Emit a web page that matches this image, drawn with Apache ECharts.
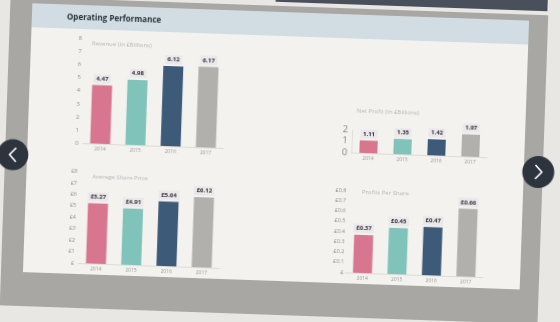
<!DOCTYPE html>
<html><head><meta charset="utf-8">
<script src="https://cdn.jsdelivr.net/npm/echarts@6/dist/echarts.min.js"></script>
<style>
html,body{margin:0;padding:0;width:560px;height:322px;overflow:hidden;background:#e8e7e3;}
#chart{position:absolute;left:-20px;top:-30px;width:600px;height:382px;transform:rotate(2deg);transform-origin:300px 191px;}
</style></head><body><div id="chart"></div>
<script>
const categories = ['2014', '2015', '2016', '2017'];
const revenue = [4.47, 4.98, 6.12, 6.17];
const netProfit = [1.11, 1.35, 1.42, 1.97];
const sharePrice = [5.27, 4.91, 5.64, 6.12];
const profitPerShare = [0.37, 0.45, 0.47, 0.66];
const revenueTicks = ['0', '1', '2', '3', '4', '5', '6', '7', '8'];
const netProfitTicks = ['0', '0.5', '1', '1.5', '2'];
const sharePriceTicks = ['£', '£1', '£2', '£3', '£4', '£5', '£6', '£7', '£8'];
const ppsTicks = ['£', '£0.1', '£0.2', '£0.3', '£0.4', '£0.5', '£0.6', '£0.7', '£0.8'];

const OX = 20, OY = 30;
const FONT = '"Open Sans", "Noto Sans", sans-serif';
const palette = ['#d8758f', '#80c3bb', '#3d5a79', '#b1b0ad'];

const grids = [
  {left: 82, top: 45.5, width: 141, height: 104.5},
  {left: 351, top: 127.5, width: 136, height: 22.5},
  {left: 82, top: 178.5, width: 141, height: 91.5},
  {left: 349, top: 188, width: 138, height: 82}
];
const axisCfg = [
  {max: 8, interval: 1, ticks: revenueTicks, fs: 6, margin: 4},
  {max: 2, interval: 0.5, ticks: netProfitTicks, fs: 7, margin: 4},
  {max: 8, interval: 1, ticks: sharePriceTicks, fs: 5.5, margin: 4},
  {max: 0.8, interval: 0.1, ticks: ppsTicks, fs: 5.5, margin: 1.5}
];
const seriesData = [revenue, netProfit, sharePrice, profitPerShare];
const valueFmt = [
  v => v.toFixed(2), v => v.toFixed(2), v => '£' + v.toFixed(2), v => '£' + v.toFixed(2)
];
const barWidths = [20, 18, 20, 19];

const option = {
  animation: false,
  backgroundColor: 'transparent',
  textStyle: {fontFamily: FONT},
  graphic: [
    {type: 'rect', z: -10, shape: {x: OX + 270, y: OY - 40, width: 272, height: 42}, style: {fill: '#4a505b'}},
    {type: 'rect', z: -10, shape: {x: OX + 5, y: OY + 6, width: 538, height: 309}, style: {fill: '#a8a7a3'}},
    {type: 'rect', z: -9, shape: {x: OX + 27, y: OY + 12, width: 497, height: 269}, style: {fill: '#f3f2ef'}},
    {type: 'rect', z: -8, shape: {x: OX + 27, y: OY + 12, width: 497, height: 24}, style: {fill: '#d1dde2'}},
    {type: 'circle', z: 50, shape: {cx: OX + 12.8, cy: OY + 164, r: 15.5}, style: {fill: '#2e343e'}},
    {type: 'polyline', z: 51, shape: {points: [[OX + 16, OY + 157], [OX + 9.5, OY + 164], [OX + 16, OY + 171]]}, style: {stroke: '#ffffff', lineWidth: 1.6, fill: null}},
    {type: 'circle', z: 50, shape: {cx: OX + 538.5, cy: OY + 163, r: 16}, style: {fill: '#2e343e'}},
    {type: 'polyline', z: 51, shape: {points: [[OX + 535.5, OY + 156], [OX + 542, OY + 163], [OX + 535.5, OY + 170]]}, style: {stroke: '#ffffff', lineWidth: 1.6, fill: null}}
  ],
  title: [
    {text: 'Operating Performance', left: OX + 62, top: OY + 21, padding: 0, textStyle: {fontSize: 8, fontWeight: 'bold', color: '#2a323c', fontFamily: FONT}},
    {text: 'Revenue (In £Billions)', left: OX + 88, top: OY + 47.5, padding: 0, textStyle: {fontSize: 6, fontWeight: 'normal', color: '#b8b6b6', fontFamily: FONT}},
    {text: 'Net Profit (In £Billions)', left: OX + 355, top: OY + 105, padding: 0, textStyle: {fontSize: 6, fontWeight: 'normal', color: '#b8b6b6', fontFamily: FONT}},
    {text: 'Average Share Price', left: OX + 93, top: OY + 180, padding: 0, textStyle: {fontSize: 6, fontWeight: 'normal', color: '#b8b6b6', fontFamily: FONT}},
    {text: 'Profits Per Share', left: OX + 363, top: OY + 186, padding: 0, textStyle: {fontSize: 6, fontWeight: 'normal', color: '#b8b6b6', fontFamily: FONT}}
  ],
  grid: grids.map(g => ({left: OX + g.left, top: OY + g.top, width: g.width, height: g.height})),
  xAxis: grids.map((g, i) => ({
    type: 'category', gridIndex: i, data: categories,
    axisLine: {show: true, lineStyle: {color: '#dcdbd8', width: 1}},
    axisTick: {show: false},
    axisLabel: {fontSize: 5, color: '#9a9a9a', margin: 3, fontFamily: FONT}
  })),
  yAxis: axisCfg.map((a, i) => ({
    type: 'value', gridIndex: i, min: 0, max: a.max, interval: a.interval,
    splitLine: {show: false},
    axisLine: {show: i === 1, lineStyle: {color: '#e0dfdc'}},
    axisTick: {show: false},
    axisLabel: {
      fontSize: a.fs, color: '#8f8f8f', margin: a.margin, fontFamily: FONT,
      hideOverlap: false, showMinLabel: true, showMaxLabel: true,
      formatter: function (v) {
        const k = Math.round(v / a.interval);
        const t = a.ticks[k];
        if (i === 1) return (k % 2 === 1) ? '{s|' + t + '}' : '{b|' + t + '}';
        return t;
      },
      rich: i === 1 ? {s: {fontSize: 4, color: '#9a9a9a', fontFamily: FONT}, b: {fontSize: 9.5, color: '#858585', fontFamily: FONT}} : undefined
    }
  })),
  series: seriesData.map((d, i) => ({
    type: 'bar', xAxisIndex: i, yAxisIndex: i, barWidth: barWidths[i],
    data: d.map((v, j) => ({value: v, itemStyle: {color: palette[j]}})),
    label: {
      show: true, position: 'top', distance: 2,
      formatter: p => valueFmt[i](p.value),
      fontSize: 6, fontWeight: 'bold', color: '#2f3338', fontFamily: FONT,
      backgroundColor: '#ebe7ea', padding: [1.5, 2.5]
    }
  }))
};
const chart = echarts.init(document.getElementById('chart'), null, {renderer: 'canvas'});
chart.setOption(option);
</script></body></html>
